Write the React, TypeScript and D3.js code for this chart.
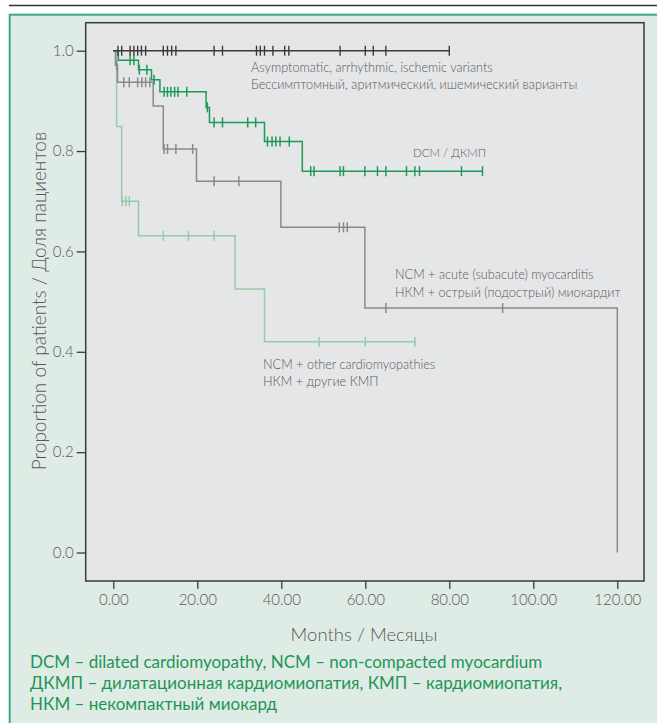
import React, { useEffect, useRef } from "react";
import * as d3 from "d3";

// Kaplan–Meier steps: [month, proportion] at each drop
const asymSteps: [number, number][] = [[0, 1], [80, 1]];
const asymCensored = [1.1, 2, 4, 4.9, 5.8, 6.7, 7.7, 11.9, 12.9, 13.9, 14.9, 24, 26, 34.1, 35, 36, 38, 40.8, 41.8, 54, 60, 61.9, 64.9, 80];

const dcmSteps: [number, number][] = [
  [0, 1], [1.2, 0.981], [6, 0.962], [9.1, 0.942], [11.1, 0.918], [22.1, 0.887],
  [22.9, 0.857], [36, 0.819], [45, 0.76], [88, 0.76],
];
const dcmCensored = [4, 4.9, 6.2, 8, 9.7, 12.1, 12.9, 13.7, 14.6, 15.4, 17.5, 22.4, 24, 26, 32, 33.9, 36.7, 37.8, 38.7, 39.7, 41.9, 47, 47.8, 54, 54.8, 59.9, 62.9, 64.9, 69.8, 71.8, 72.9, 82.9, 87.9];

const acuteSteps: [number, number][] = [
  [0, 1], [0.5, 0.971], [1, 0.937], [9.5, 0.89], [11.9, 0.804], [19.8, 0.74],
  [39.9, 0.648], [59.9, 0.487], [120, 0],
];
const acuteCensored = [0.8, 2.5, 3.8, 5.8, 6.8, 7.7, 8.7, 12.1, 12.9, 14.9, 18.9, 24, 29.9, 53.8, 54.8, 55.7, 64.9, 92.7];

const otherSteps: [number, number][] = [
  [0, 1], [0.8, 0.849], [2, 0.7], [6, 0.631], [29, 0.525], [36, 0.42], [72, 0.42],
];
const otherCensored = [2.1, 3, 3.8, 11.9, 17.9, 24, 49, 60, 71.8];

const xTicks = [0, 20, 40, 60, 80, 100, 120];
const yTicks = [0, 0.2, 0.4, 0.6, 0.8, 1.0];

const footnotes = [
  "DCM – dilated cardiomyopathy, NCM – non-compacted myocardium",
  "ДКМП – дилатационная кардиомиопатия, КМП – кардиомиопатия,",
  "НКМ – некомпактный миокард",
];

export default function App() {
  const svgRef = useRef<SVGSVGElement>(null);

  useEffect(() => {
    const svg = d3.select(svgRef.current);
    svg.selectAll("*").remove();
    const font = "Lato, 'Open Sans', sans-serif";
    const textGray = "#595959";

    // top rule and green frame
    svg.append("line").attr("x1", 9).attr("x2", 657).attr("y1", 5.5).attr("y2", 5.5)
      .attr("stroke", "#333").attr("stroke-width", 1.5);
    svg.append("rect").attr("x", 9.7).attr("y", 14.7).attr("width", 660).attr("height", 720)
      .attr("fill", "#dfebe5").attr("stroke", "#3aa97b").attr("stroke-width", 2);

    const box = { left: 85.7, right: 644, top: 22.7, bottom: 581 };
    svg.append("rect").attr("x", box.left).attr("y", box.top)
      .attr("width", box.right - box.left).attr("height", box.bottom - box.top)
      .attr("fill", "#e5e6e8").attr("stroke", "#3a3a3a").attr("stroke-width", 1.5);

    const x = d3.scaleLinear().domain([0, 120]).range([113.3, 617.3]);
    const y = d3.scaleLinear().domain([0, 1]).range([552.5, 50.7]);

    // axes
    const yAxis = svg.append("g").attr("transform", `translate(${box.left},0)`)
      .call(d3.axisLeft(y).tickValues(yTicks).tickSize(9).tickPadding(3).tickFormat(d3.format(".1f")));
    const xAxis = svg.append("g").attr("transform", `translate(0,${box.bottom})`)
      .call(d3.axisBottom(x).tickValues(xTicks).tickSize(8).tickPadding(5).tickFormat(d3.format(".2f")));
    [xAxis, yAxis].forEach((a) => {
      a.select(".domain").remove();
      a.selectAll("line").attr("stroke", "#3a3a3a").attr("stroke-width", 1.3);
      a.selectAll("text").attr("font-family", font).attr("font-size", 15).attr("font-weight", 300)
        .attr("fill", textGray);
    });

    const line = d3.line<[number, number]>()
      .x((d) => x(d[0])).y((d) => y(d[1])).curve(d3.curveStepAfter);

    const survAt = (steps: [number, number][], t: number) => {
      let s = steps[0][1];
      steps.forEach((d) => { if (d[0] <= t) s = d[1]; });
      return s;
    };

    const series = [
      { steps: otherSteps, cens: otherCensored, color: "#95cca8", w: 1.5 },
      { steps: acuteSteps, cens: acuteCensored, color: "#8a8a8a", w: 1.5 },
      { steps: dcmSteps, cens: dcmCensored, color: "#1f9a56", w: 1.5 },
      { steps: asymSteps, cens: asymCensored, color: "#3a3a3a", w: 1.4 },
    ];

    series.forEach((s) => {
      svg.append("path").datum(s.steps).attr("d", line)
        .attr("fill", "none").attr("stroke", s.color).attr("stroke-width", s.w);
      svg.append("g").selectAll("line").data(s.cens).enter().append("line")
        .attr("x1", (t) => x(t)).attr("x2", (t) => x(t))
        .attr("y1", (t) => y(survAt(s.steps, t)) - 5)
        .attr("y2", (t) => y(survAt(s.steps, t)) + 5)
        .attr("stroke", s.color).attr("stroke-width", s.w);
    });

    // curve labels
    const labels: [number, number, string, number][] = [
      [251, 72, "Asymptomatic, arrhythmic, ischemic variants", 12.7],
      [251, 89, "Бессимптомный, аритмический, ишемический варианты", 12.7],
      [413, 157, "DCM / ДКМП", 11.5],
      [395, 279, "NCM + acute (subacute) myocarditis", 12.7],
      [395, 297, "НКМ + острый (подострый) миокардит", 12.7],
      [263, 369, "NCM + other cardiomyopathies", 12.7],
      [263, 386, "НКМ + другие КМП", 12.7],
    ];
    svg.append("g").selectAll("text").data(labels).enter().append("text")
      .attr("x", (d) => d[0]).attr("y", (d) => d[1]).text((d) => d[2])
      .attr("font-family", font).attr("font-size", (d) => d[3]).attr("font-weight", 300)
      .attr("fill", textGray);

    svg.append("text").attr("transform", "translate(46,301) rotate(-90)")
      .attr("text-anchor", "middle").attr("font-family", font).attr("font-size", 19)
      .attr("font-weight", 300).attr("fill", textGray).text("Proportion of patients / Доля пациентов");

    svg.append("text").attr("x", 364).attr("y", 641).attr("text-anchor", "middle")
      .attr("font-family", font).attr("font-size", 18.5).attr("font-weight", 300)
      .attr("fill", textGray).text("Months / Месяцы");

    svg.append("g").selectAll("text").data(footnotes).enter().append("text")
      .attr("x", 30).attr("y", (d, i) => 668 + i * 21).text((d) => d)
      .attr("font-family", font).attr("font-size", 17).attr("fill", "#1e9656");
  }, []);

  return (
    <svg ref={svgRef} width={657} height={723}
      style={{ display: "block", position: "absolute", left: 0, top: 0 }} />
  );
}
